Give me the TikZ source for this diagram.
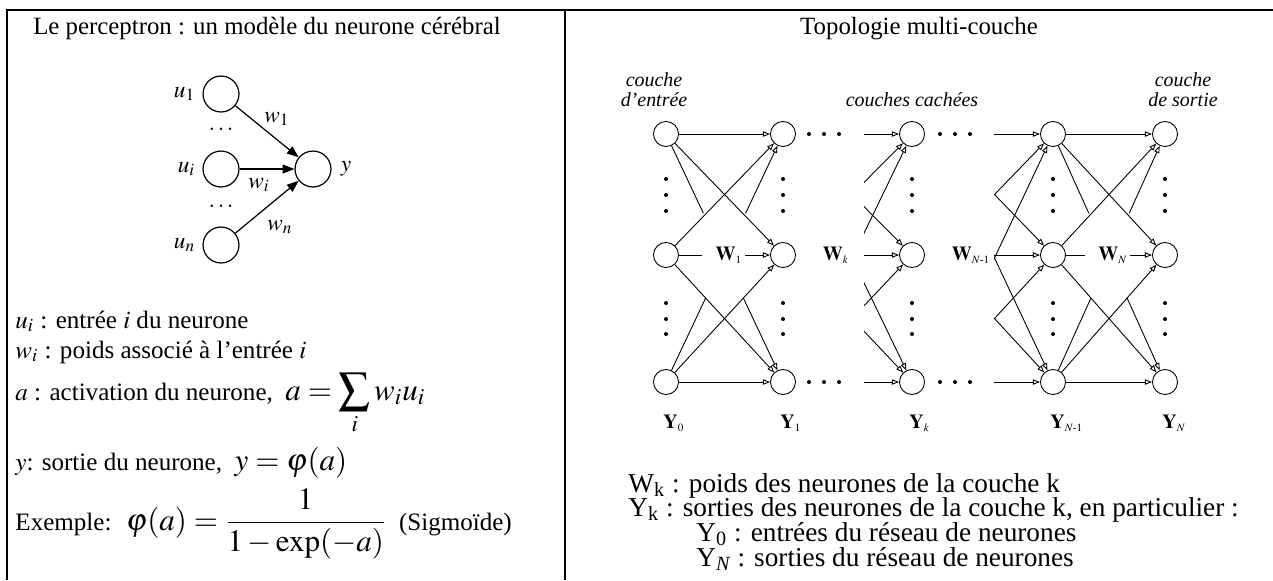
\documentclass[tikz,border=0pt]{standalone}
\usepackage{mathptmx}
\usepackage[no-math]{fontspec}
\setmainfont{Liberation Serif}
\usetikzlibrary{positioning, calc, arrows.meta}

\tikzset{
  neuron/.style={circle, draw, minimum size=16.2pt, inner sep=0pt, line width=0.55pt},
  unit/.style={circle, draw, minimum size=11.3pt, inner sep=0pt, line width=0.4pt},
  syn/.style={line width=0.55pt, -{Triangle[length=5.3pt, width=4pt]}},
  link/.style={line width=0.4pt},
  arr/.style={link, -{Triangle[open, length=3.2pt, width=2.4pt]}},
  ttl/.style={anchor=base, inner sep=0pt, font=\fontsize{11.2}{13}\selectfont},
  txt/.style={anchor=base west, inner sep=0pt, font=\fontsize{11.3}{13}\selectfont},
  leg/.style={anchor=base west, inner sep=0pt, font=\fontsize{12.3}{14}\selectfont},
  plab/.style={inner sep=1pt, font=\fontsize{10.5}{12}\selectfont},
  hdr/.style={anchor=base, inner sep=0pt, font=\fontsize{9}{10}\selectfont\itshape},
  lab/.style={inner sep=1pt, font=\fontsize{9}{10}\selectfont},
}

\begin{document}
\begin{tikzpicture}[x=0.451pt, y=-0.451pt]
    \useasboundingbox (0,0) rectangle (1273,580);

    % Table frame
    \draw[line width=0.9pt] (7,580) -- (7,10) -- (1273,10);
    \draw[line width=0.9pt] (565,10) -- (565,580);

    % Titles
    \node[ttl] (title1) at (267,34) {Le perceptron : un modèle du neurone cérébral};
    \node[ttl] (title2) at (919,34) {Topologie multi-couche};

    % Perceptron
    \node[neuron] (u1) at (221,94) {};
    \node[neuron] (ui) at (221,169) {};
    \node[neuron] (un) at (221,245) {};
    \node[neuron] (out) at (313,169) {};
    \node[plab, left=2pt of u1] (lu1) {$u_1$};
    \node[plab, left=2pt of ui] (lui) {$u_i$};
    \node[plab, left=2pt of un] (lun) {$u_n$};
    \node[plab, right=3pt of out] (lout) {$y$};
    \node[plab] (dots1) at (221,129) {$\dots$};
    \node[plab] (dots2) at (221,206) {$\dots$};
    \draw[syn] (u1) -- (out);
    \draw[syn] (ui) -- (out);
    \draw[syn] (un) -- (out);
    \node[plab] (lw1) at (277,119) {$w_1$};
    \node[plab] (lwi) at (259,185) {$w_i$};
    \node[plab] (lwn) at (280,227) {$w_n$};

    % Definitions
    \node[txt] (def1) at (15,328) {$u_i$ : entrée $i$ du neurone};
    \node[txt] (def2) at (15,358) {$w_i$ : poids associé à l’entrée $i$};
    \node[txt] (def3) at (15,400) {$a$ : activation du neurone, \ {\fontsize{14}{17}\selectfont$\displaystyle a=\sum_i w_iu_i$}};
    \node[txt] (def4) at (15,470) {$y$: sortie du neurone, \ {\fontsize{14}{17}\selectfont$y=\varphi(a)$}};
    \node[txt] (def5) at (15,530) {Exemple: \ {\fontsize{14}{17}\selectfont$\displaystyle\varphi(a)=\frac{1}{1-\exp(-a)}$} \ (Sigmoïde)};

    % Multi-layer network
    \foreach \c/\x in {0/666, 1/783, k/912, m/1053, N/1165} {
        \node[unit] (t-\c) at (\x,134) {};
        \node[unit] (m-\c) at (\x,255) {};
        \node[unit] (b-\c) at (\x,382) {};
        \foreach \y in {179,195,211,303,319,334}
            \fill (\x,\y) circle (2);
    }
    \foreach \x in {809,824,839,940,955,970} {
        \fill (\x,134) circle (2);
        \fill (\x,382) circle (2);
    }

    % Layer labels
    \node[hdr] (h0a) at (654,86) {couche};
    \node[hdr] (h0b) at (654,106) {d'entrée};
    \node[hdr] (hk) at (912,106) {couches cachées};
    \node[hdr] (hNa) at (1183,86) {couche};
    \node[hdr] (hNb) at (1183,106) {de sortie};

    % Weights
    \node[lab] (W1) at (729,255) {$\mathbf{W}_{\scriptscriptstyle 1}$};
    \node[lab] (Wk) at (836,255) {$\mathbf{W}_{\scriptscriptstyle k}$};
    \node[lab] (Wm) at (971,255) {$\mathbf{W}_{\scriptscriptstyle N\hbox{\fontsize{5}{5}\selectfont -}1}$};
    \node[lab] (WN) at (1113,255) {$\mathbf{W}_{\scriptscriptstyle N}$};

    % Full connections
    \foreach \p/\q in {0/1, m/N} {
        \draw[arr] (t-\p) -- (t-\q);
        \draw[arr] (t-\p) -- (m-\q);
        \draw[link] (t-\p) -- ($(t-\p)!0.32!(b-\q)$);
        \draw[arr] ($(t-\p)!0.66!(b-\q)$) -- (b-\q);
        \draw[arr] (m-\p) -- (t-\q);
        \draw[arr] (m-\p) -- (b-\q);
        \draw[link] (b-\p) -- ($(b-\p)!0.34!(t-\q)$);
        \draw[arr] ($(b-\p)!0.68!(t-\q)$) -- (t-\q);
        \draw[arr] (b-\p) -- (m-\q);
        \draw[arr] (b-\p) -- (b-\q);
    }
    \draw[link] (m-0) -- ([xshift=-5pt]W1.west);
    \draw[arr] (W1.east) -- (m-1);
    \draw[link] (m-m) -- ([xshift=-5pt]WN.west);
    \draw[arr] (WN.east) -- (m-N);

    % Cut connections into hidden layers
    \coordinate (kin-t) at (792,134);
    \coordinate (kin-m) at (792,255);
    \coordinate (kin-b) at (792,382);
    \coordinate (min-t) at (936,134);
    \coordinate (min-m) at (936,255);
    \coordinate (min-b) at (936,382);
    \begin{scope}
        \clip (864,100) rectangle (1000,400);
        \foreach \s in {t,m,b}
            \foreach \e in {t,m,b}
                \draw[arr] (kin-\s) -- (\e-k);
    \end{scope}
    \begin{scope}
        \clip (994,100) rectangle (1100,400);
        \foreach \s in {t,m,b}
            \foreach \e in {t,m,b}
                \draw[arr] (min-\s) -- (\e-m);
    \end{scope}

    % Outputs
    \foreach \c/\x/\s in {0/666/0, 1/783/1, k/912/k, m/1053/N\hbox{\fontsize{5}{5}\selectfont -}1, N/1165/N}
        \node[lab, anchor=base west, inner sep=0pt] (Y-\c) at (\x-3,428) {$\mathbf{Y}_{\scriptscriptstyle \s}$};

    % Legend
    \node[leg] (leg1) at (628,492) {W\textsubscript{k} : poids des neurones de la couche k};
    \node[leg] (leg2) at (628,516) {Y\textsubscript{k} : sorties des neurones de la couche k, en particulier :};
    \node[leg] (leg3) at (696,541) {Y\textsubscript{0} : entrées du réseau de neurones};
    \node[leg] (leg4) at (696,566) {Y\textsubscript{\itshape N} : sorties du réseau de neurones};
\end{tikzpicture}
\end{document}
